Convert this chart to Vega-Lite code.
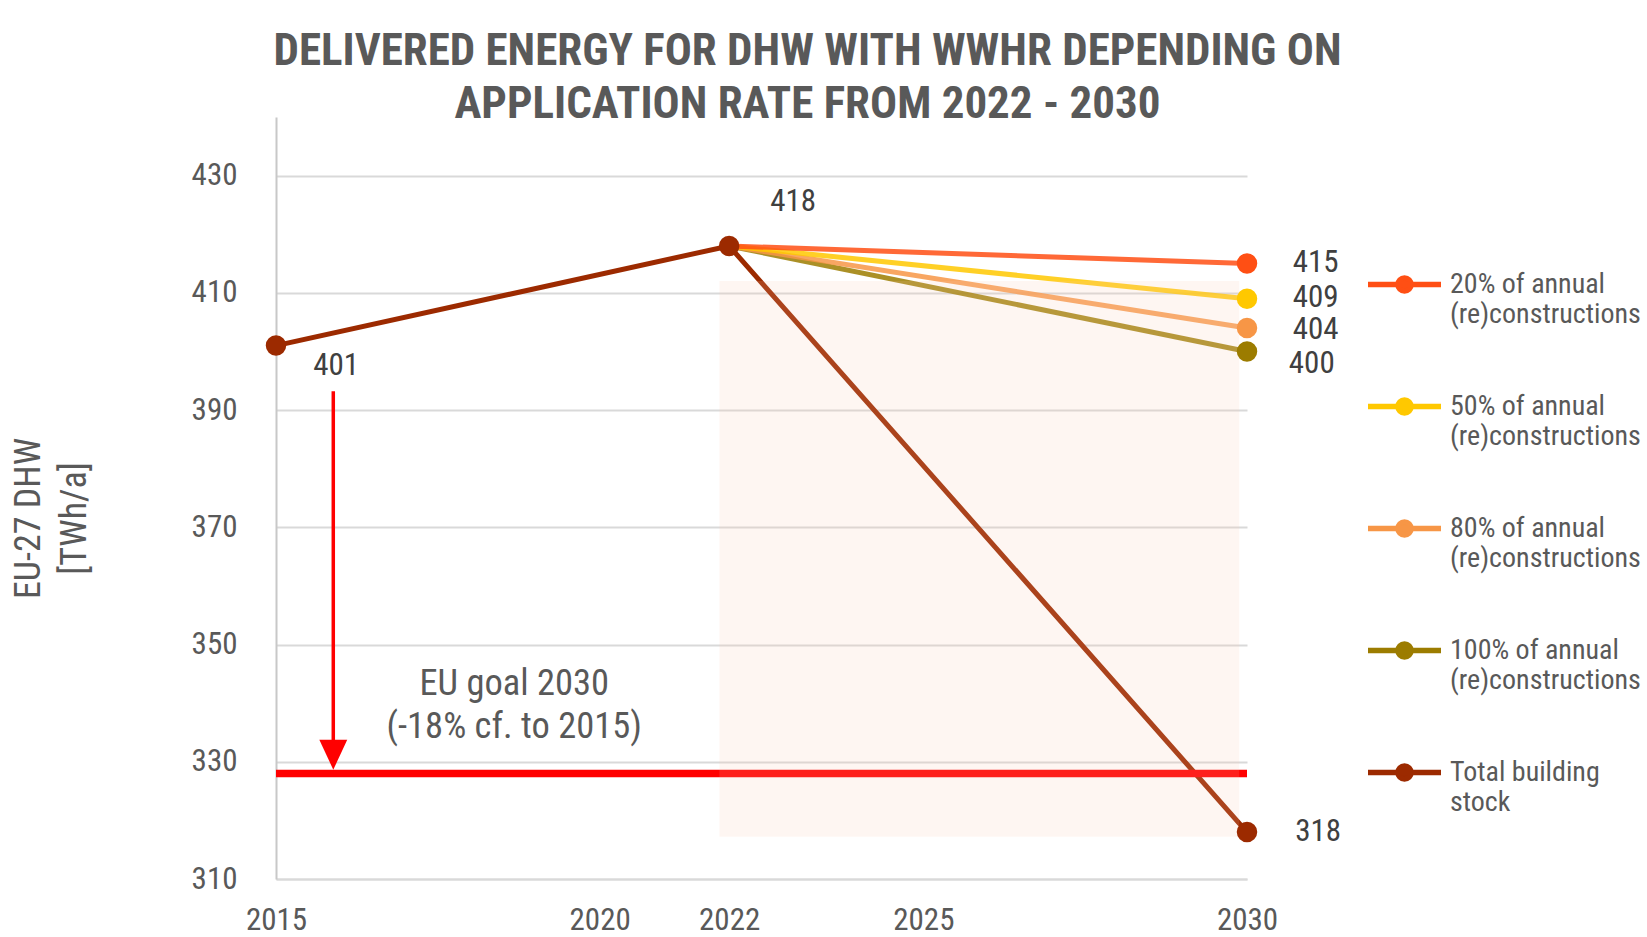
{
  "$schema": "https://vega.github.io/schema/vega-lite/v6.json",
  "width": 971,
  "height": 762,
  "autosize": {"type": "none"},
  "padding": {"left": 276, "top": 117, "right": 400, "bottom": 58},
  "background": "white",
  "config": {
    "font": "Roboto Condensed, Liberation Sans Narrow, Arial Narrow, DejaVu Sans Condensed, sans-serif",
    "view": {"stroke": null}
  },
  "title": {
    "text": ["DELIVERED ENERGY FOR DHW WITH WWHR DEPENDING ON", "APPLICATION RATE FROM 2022 - 2030"],
    "fontSize": 45,
    "fontWeight": "bold",
    "color": "#595959",
    "lineHeight": 53,
    "anchor": "middle",
    "dx": 46,
    "offset": -10
  },
  "datasets": {
    "series": [
      {"series": "Total building stock", "year": 2015, "value": 401},
      {"series": "Total building stock", "year": 2022, "value": 418},
      {"series": "Total building stock", "year": 2030, "value": 318},
      {"series": "100% of annual (re)constructions", "year": 2022, "value": 418},
      {"series": "100% of annual (re)constructions", "year": 2030, "value": 400},
      {"series": "80% of annual (re)constructions", "year": 2022, "value": 418},
      {"series": "80% of annual (re)constructions", "year": 2030, "value": 404},
      {"series": "50% of annual (re)constructions", "year": 2022, "value": 418},
      {"series": "50% of annual (re)constructions", "year": 2030, "value": 409},
      {"series": "20% of annual (re)constructions", "year": 2022, "value": 418},
      {"series": "20% of annual (re)constructions", "year": 2030, "value": 415}
    ],
    "labels": [
      {"label": "401", "year": 2015.93, "value": 397.5},
      {"label": "418", "year": 2022.99, "value": 425.5},
      {"label": "415", "year": 2031.06, "value": 415.1},
      {"label": "409", "year": 2031.06, "value": 409.1},
      {"label": "404", "year": 2031.06, "value": 403.6},
      {"label": "400", "year": 2031.0, "value": 397.9},
      {"label": "318", "year": 2031.1, "value": 318.0}
    ],
    "goal": [{"x": 2015, "x2": 2030, "y": 328}],
    "arrow": [{"x": 2015.885, "y": 393.2, "y2": 333.7, "tip": 331.2}],
    "shade": [{"x": 2021.85, "x2": 2029.88, "y": 317.2, "y2": 412}],
    "note": [{"text": "EU goal 2030\n(-18% cf. to 2015)", "year": 2018.68, "value": 343.3}]
  },
  "layer": [
    {
      "data": {"name": "series"},
      "mark": {"type": "line", "strokeWidth": 5},
      "encoding": {
        "x": {
          "field": "year", "type": "quantitative",
          "scale": {"domain": [2015, 2030], "nice": false, "zero": false},
          "axis": {
            "values": [2015, 2020, 2022, 2025, 2030], "format": "d", "title": null,
            "grid": false, "ticks": false, "domainColor": "#D9D9D9", "domainWidth": 2,
            "labelFontSize": 31, "labelColor": "#595959", "labelPadding": 26, "labelFlush": false
          }
        },
        "y": {
          "field": "value", "type": "quantitative",
          "scale": {"domain": [310, 440], "nice": false, "zero": false},
          "axis": {
            "values": [310, 330, 350, 370, 390, 410, 430],
            "title": ["EU-27 DHW", "[TWh/a]"],
            "titleFontSize": 36, "titleFontWeight": "normal", "titleColor": "#595959",
            "titleLineHeight": 46, "titleX": -229, "titleY": 401,
            "grid": true, "gridColor": "#D9D9D9", "gridWidth": 2,
            "ticks": false, "domainColor": "#C8C8C8", "domainWidth": 2,
            "labelFontSize": 31, "labelColor": "#595959", "labelPadding": 39
          }
        },
        "color": {
          "field": "series", "type": "nominal",
          "scale": {
            "domain": ["20% of annual (re)constructions", "50% of annual (re)constructions", "80% of annual (re)constructions", "100% of annual (re)constructions", "Total building stock"],
            "range": ["#FF4F14", "#FFC800", "#F79646", "#9C7C00", "#9C2A00"]
          },
          "legend": {
            "orient": "none", "legendX": 1089, "legendY": 128, "title": null, "padding": 0,
            "symbolType": "M-1,0H1M-0.18,0A0.18,0.18,0,1,0,0.18,0A0.18,0.18,0,1,0,-0.18,0Z",
            "symbolSize": 5329, "symbolStrokeWidth": 5.5,
            "labelFontSize": 28, "labelColor": "#595959", "labelLimit": 400, "labelOffset": 6,
            "rowPadding": 38,
            "labelExpr": "datum.label == 'Total building stock' ? ['Total building', 'stock'] : [replace(datum.label, ' (re)constructions', ''), '(re)constructions']",
            "encode": {
              "labels": {
                "enter": {"lineHeight": {"value": 35}},
                "update": {"dy": {"value": 17.5}, "lineHeight": {"value": 35}}
              },
              "symbols": {"update": {"fill": {"scale": "color", "field": "value"}, "opacity": {"value": 1}}}
            }
          }
        },
        "opacity": {
          "condition": {"test": "datum.series == 'Total building stock'", "value": 1},
          "value": 0.85
        }
      }
    },
    {
      "data": {"name": "goal"},
      "mark": {"type": "rule", "color": "#FF0000", "strokeWidth": 7.3},
      "encoding": {
        "x": {"field": "x", "type": "quantitative"},
        "x2": {"field": "x2"},
        "y": {"field": "y", "type": "quantitative"}
      }
    },
    {
      "data": {"name": "arrow"},
      "mark": {"type": "rule", "color": "#FF0000", "strokeWidth": 3.5},
      "encoding": {
        "x": {"field": "x", "type": "quantitative"},
        "y": {"field": "y", "type": "quantitative"},
        "y2": {"field": "y2"}
      }
    },
    {
      "data": {"name": "arrow"},
      "mark": {"type": "point", "shape": "M-0.93,-1L0.93,-1L0,1Z", "size": 900, "filled": true, "color": "#FF0000", "opacity": 1},
      "encoding": {
        "x": {"field": "x", "type": "quantitative"},
        "y": {"field": "tip", "type": "quantitative"}
      }
    },
    {
      "data": {"name": "shade"},
      "mark": {"type": "rect", "color": "#F6C4B0", "opacity": 0.16},
      "encoding": {
        "x": {"field": "x", "type": "quantitative"},
        "x2": {"field": "x2"},
        "y": {"field": "y", "type": "quantitative"},
        "y2": {"field": "y2"}
      }
    },
    {
      "data": {"name": "series"},
      "transform": [{"filter": "datum.year == 2030 || datum.series == 'Total building stock'"}],
      "mark": {"type": "point", "filled": true, "size": 420, "opacity": 1},
      "encoding": {
        "x": {"field": "year", "type": "quantitative"},
        "y": {"field": "value", "type": "quantitative"},
        "color": {"field": "series", "type": "nominal", "legend": null}
      }
    },
    {
      "data": {"name": "labels"},
      "mark": {"type": "text", "fontSize": 31, "color": "#404040", "align": "center", "baseline": "middle"},
      "encoding": {
        "x": {"field": "year", "type": "quantitative"},
        "y": {"field": "value", "type": "quantitative"},
        "text": {"field": "label"}
      }
    },
    {
      "data": {"name": "note"},
      "mark": {"type": "text", "fontSize": 36.5, "color": "#595959", "align": "center", "baseline": "middle", "lineBreak": "\n", "lineHeight": 43},
      "encoding": {
        "x": {"field": "year", "type": "quantitative"},
        "y": {"field": "value", "type": "quantitative"},
        "text": {"field": "text"}
      }
    }
  ]
}
